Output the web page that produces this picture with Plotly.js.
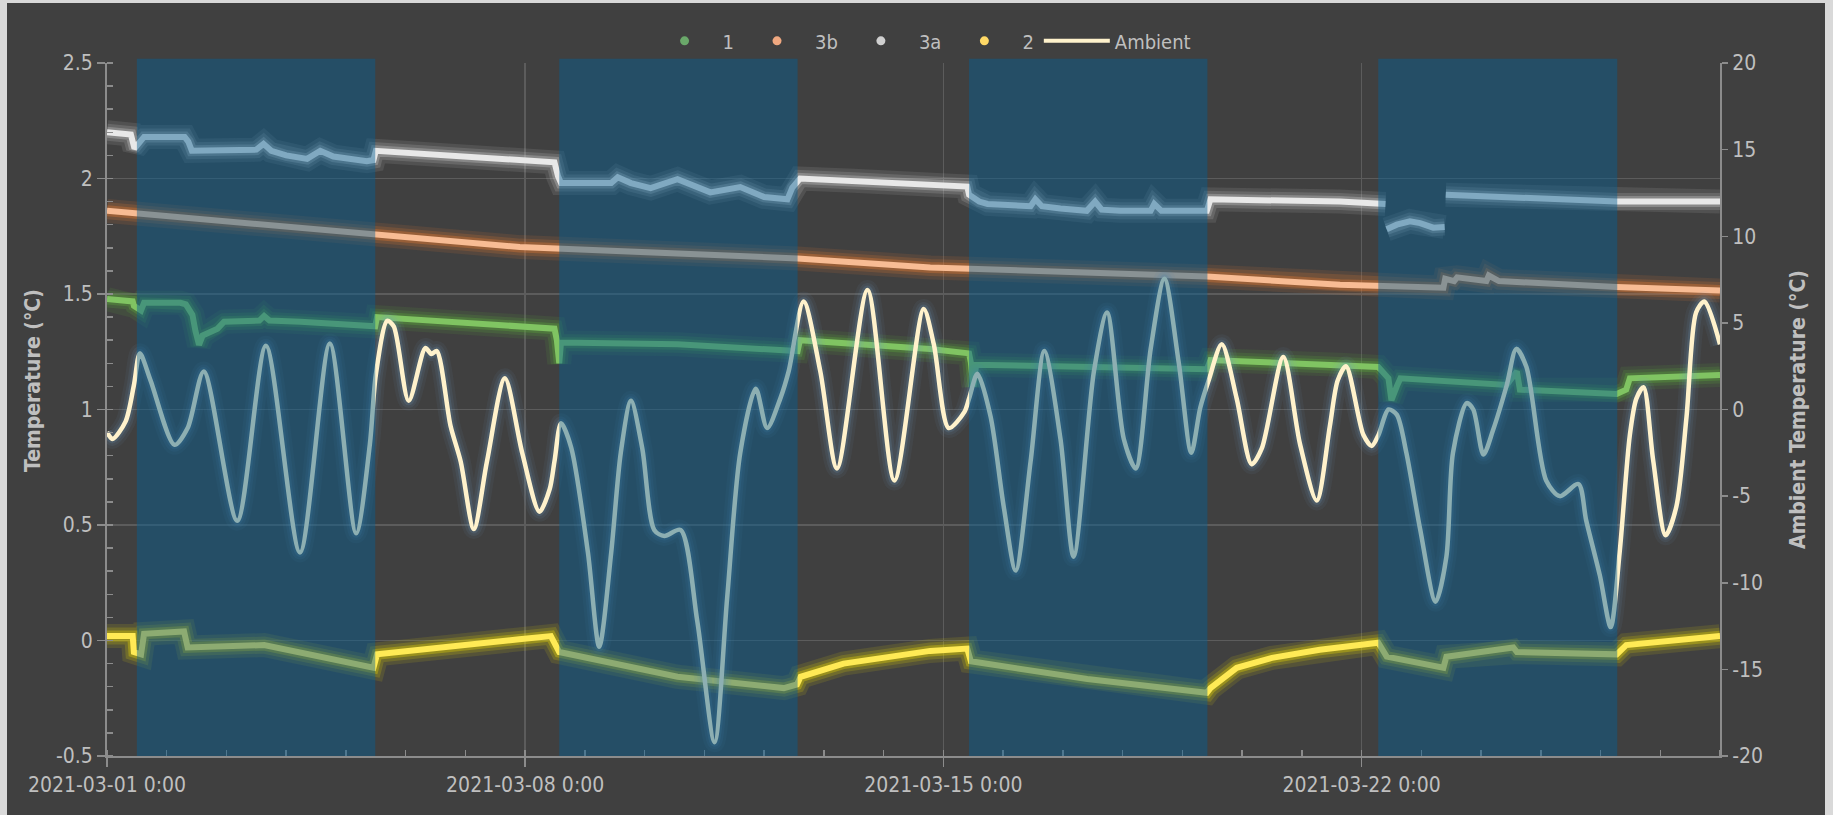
<!DOCTYPE html>
<html>
<head>
<meta charset="utf-8">
<script src="https://cdn.plot.ly/plotly-3.0.1.min.js"></script>
<style>
  html, body { margin: 0; padding: 0; background: #d9d9d9; width: 1833px; height: 815px; overflow: hidden; }
  #chart { position: absolute; left: 7px; top: 3px; width: 1818px; height: 812px; }
</style>
</head>
<body>
<div id="chart"></div>
<script>
// ---- data (x values are days after 2021-03-01 0:00) ----
const seriesNames = ['1', '3b', '3a', '2', 'Ambient'];

const s1Days = [0.00, 0.43, 0.45, 0.57, 0.62, 1.23, 1.32, 1.43, 1.48, 1.54, 1.60, 1.85, 1.96, 2.55, 2.63, 2.72, 3.24, 4.49, 4.52, 6.91, 7.49, 7.53, 7.57, 7.60, 9.55, 11.56, 11.60, 13.78, 14.43, 14.46, 14.50, 14.55, 18.41, 18.47, 20.64, 21.28, 21.45, 21.50, 21.59, 21.65, 23.43, 23.60, 23.65, 25.27, 25.43, 25.49, 27.00];
const s1Vals = [1.478, 1.468, 1.449, 1.429, 1.462, 1.462, 1.455, 1.41, 1.34, 1.28, 1.32, 1.35, 1.38, 1.385, 1.405, 1.385, 1.38, 1.36, 1.40, 1.36, 1.35, 1.30, 1.20, 1.29, 1.282, 1.253, 1.30, 1.262, 1.243, 1.204, 1.10, 1.194, 1.174, 1.214, 1.194, 1.184, 1.135, 1.04, 1.10, 1.135, 1.106, 1.165, 1.086, 1.067, 1.086, 1.135, 1.149];

const s3bDays = [0.00, 4.49, 6.91, 11.56, 13.78, 18.41, 20.64, 22.37, 22.40, 22.55, 22.60, 23.09, 23.13, 23.30, 25.27, 27.00];
const s3bVals = [1.86, 1.762, 1.703, 1.654, 1.615, 1.576, 1.54, 1.527, 1.566, 1.556, 1.572, 1.556, 1.58, 1.556, 1.53, 1.515];

const s3aDays = [0.00, 0.40, 0.46, 0.62, 1.30, 1.36, 1.42, 2.50, 2.62, 2.75, 3.00, 3.35, 3.57, 3.79, 4.35, 4.46, 4.50, 6.90, 7.49, 7.55, 7.60, 8.44, 8.55, 8.77, 9.10, 9.55, 10.10, 10.60, 11.00, 11.39, 11.47, 11.60, 12.50, 14.40, 14.43, 14.60, 14.74, 15.46, 15.54, 15.65, 15.96, 16.40, 16.54, 16.65, 16.96, 17.47, 17.53, 17.65, 18.41, 18.47, 20.64, 21.25, 21.40, 21.41, 21.42, 21.59, 21.81, 21.98, 22.20, 22.39, 22.40, 22.41, 23.65, 25.27, 27.00];
const s3aVals = [2.20, 2.19, 2.13, 2.18, 2.18, 2.16, 2.12, 2.125, 2.15, 2.12, 2.10, 2.085, 2.12, 2.095, 2.075, 2.08, 2.12, 2.075, 2.07, 2.01, 1.98, 1.98, 2.005, 1.98, 1.958, 1.997, 1.94, 1.963, 1.92, 1.91, 1.96, 2.00, 1.99, 1.965, 1.93, 1.90, 1.89, 1.88, 1.91, 1.88, 1.87, 1.86, 1.90, 1.865, 1.86, 1.86, 1.89, 1.86, 1.86, 1.91, 1.90, 1.89, 1.89, null, 1.78, 1.80, 1.815, 1.807, 1.787, 1.79, null, 1.93, 1.915, 1.90, 1.90];

const s2Days = [0.00, 0.43, 0.45, 0.57, 0.62, 1.29, 1.35, 2.63, 4.46, 4.52, 6.90, 7.43, 7.57, 8.44, 9.55, 11.33, 11.55, 11.61, 12.33, 13.78, 14.40, 14.46, 16.41, 18.41, 18.47, 18.91, 19.50, 20.30, 21.28, 21.42, 22.37, 22.42, 23.54, 23.60, 25.27, 25.43, 27.00];
const s2Vals = [0.019, 0.019, -0.05, -0.06, 0.029, 0.039, -0.03, -0.02, -0.118, -0.06, 0.005, 0.019, -0.05, -0.098, -0.157, -0.206, -0.19, -0.157, -0.10, -0.045, -0.035, -0.09, -0.167, -0.226, -0.206, -0.118, -0.075, -0.04, -0.01, -0.07, -0.118, -0.07, -0.03, -0.05, -0.06, -0.02, 0.019];

const ambDays = [0.00, 0.09, 0.31, 0.45, 0.55, 0.73, 1.13, 1.35, 1.62, 2.18, 2.66, 3.23, 3.73, 4.17, 4.40, 4.50, 4.69, 4.80, 5.05, 5.33, 5.43, 5.52, 5.75, 5.92, 6.14, 6.36, 6.66, 6.95, 7.24, 7.41, 7.49, 7.60, 7.77, 8.05, 8.24, 8.44, 8.60, 8.77, 8.96, 9.16, 9.33, 9.60, 9.88, 10.17, 10.38, 10.60, 10.86, 11.05, 11.27, 11.41, 11.66, 11.94, 12.22, 12.73, 13.18, 13.67, 13.84, 14.09, 14.35, 14.43, 14.57, 14.79, 15.01, 15.21, 15.46, 15.69, 15.96, 16.18, 16.52, 16.74, 17.02, 17.22, 17.47, 17.70, 17.94, 18.15, 18.30, 18.44, 18.66, 18.91, 19.16, 19.33, 19.69, 19.97, 20.25, 20.47, 20.60, 20.74, 21.03, 21.17, 21.28, 21.45, 21.59, 21.75, 21.98, 22.24, 22.42, 22.53, 22.76, 22.87, 23.04, 23.20, 23.43, 23.59, 23.76, 24.09, 24.32, 24.63, 24.76, 24.99, 25.17, 25.32, 25.49, 25.60, 25.72, 25.88, 26.09, 26.27, 26.44, 26.60, 26.74, 27.00];
const ambVals = [-1.3, -1.7, -0.7, 1.4, 3.24, 1.67, -2.04, -1.07, 2.2, -6.42, 3.68, -8.25, 3.81, -7.15, -2.0, 2.0, 5.12, 4.8, 0.5, 3.55, 3.2, 3.37, -0.94, -3.0, -6.9, -3.0, 1.8, -2.5, -5.9, -4.6, -3.0, -0.8, -2.2, -8.25, -13.7, -8.25, -2.5, 0.5, -2.25, -6.95, -7.3, -6.95, -12.2, -19.2, -10.9, -2.5, 1.2, -1.07, 0.63, 2.2, 6.24, 2.2, -3.4, 6.9, -4.1, 5.8, 3.76, -1.07, -0.15, 0.63, 2.06, -0.4, -5.6, -9.3, -3.0, 3.37, -1.7, -8.5, 2.2, 5.6, -1.7, -3.4, 3.5, 7.55, 2.7, -2.5, 0.1, 1.67, 3.76, 0.63, -3.16, -2.25, 3.03, -2.0, -5.25, -0.94, 1.67, 2.5, -1.46, -2.1, -1.5, 0.0, -0.3, -2.5, -6.9, -11.1, -8.5, -2.5, 0.37, 0.0, -2.6, -1.2, 1.4, 3.5, 2.45, -4.1, -5.0, -4.3, -6.4, -9.6, -12.56, -8.25, -1.5, 0.63, 1.28, -2.9, -7.26, -5.6, -0.4, 5.6, 6.24, 3.76];

// shaded periods (days after 2021-03-01)
const bandStart = [0.50, 7.57, 14.43, 21.28];
const bandEnd   = [4.49, 11.56, 18.42, 25.28];

// tick labels
const xTickDays = [0, 7, 14, 21];
const yLeftTicks = [-0.5, 0, 0.5, 1, 1.5, 2, 2.5];
const yLeftLabels = ['-0.5', '0', '0.5', '1', '1.5', '2', '2.5'];
const yRightTicks = [-20, -15, -10, -5, 0, 5, 10, 15, 20];
const yRightLabels = ['-20', '-15', '-10', '-5', '0', '5', '10', '15', '20'];

// ---- helpers ----
const DAY0 = Date.UTC(2021, 2, 1);
function toDate(d) { return new Date(DAY0 + d * 864e5).toISOString().slice(0, 19).replace('T', ' '); }
const dates = arr => arr.map(toDate);

const FONT = '"Liberation Sans Narrow", "DejaVu Sans Condensed", "Open Sans", sans-serif';
const TXT = '#bfbfbf';

const styles = {
  '1':   { core: '#80c462', glow: '94,170,60',  yaxis: 'y' },
  '3b':  { core: '#f8bc94', glow: '237,125,49', yaxis: 'y' },
  '3a':  { core: '#e8e8e8', glow: '205,205,205', yaxis: 'y' },
  '2':   { core: '#ffea55', glow: '240,220,0',  yaxis: 'y' },
  'Ambient': { core: '#fff2cc', glow: '110,160,200', yaxis: 'y2' }
};
const legendColor = { '1': '#6aa86a', '3b': '#f0a880', '3a': '#d0d0d0', '2': '#ffd966', 'Ambient': '#fff2cc' };

const dataSets = {
  '1':  [s1Days, s1Vals],
  '3b': [s3bDays, s3bVals],
  '3a': [s3aDays, s3aVals],
  '2':  [s2Days, s2Vals],
  'Ambient': [ambDays, ambVals]
};

const traces = [];
seriesNames.forEach(name => {
  const st = styles[name];
  const [dx, dy] = dataSets[name];
  const x = dates(dx);
  const isAmb = name === 'Ambient';
  const shape = isAmb ? 'spline' : 'linear';
  const glowW = isAmb ? [20, 14, 9] : [24, 17, 11];
  const glowA = isAmb ? [0.07, 0.1, 0.16] : [0.12, 0.18, 0.32];
  glowW.forEach((w, k) => {
    traces.push({ x, y: dy, yaxis: st.yaxis, mode: 'lines', hoverinfo: 'skip', showlegend: false,
      line: { color: 'rgba(' + st.glow + ',' + glowA[k] + ')', width: w, shape, smoothing: 0.8 } });
  });
  traces.push({ x, y: dy, yaxis: st.yaxis, mode: 'lines', name, showlegend: false,
    line: { color: st.core, width: isAmb ? 4.5 : 6, shape, smoothing: 0.8 } });
});
// legend entries
seriesNames.forEach(name => {
  if (name === 'Ambient') {
    traces.push({ x: [null], y: [null], yaxis: 'y2', mode: 'lines', name, line: { color: legendColor[name], width: 4 } });
  } else {
    traces.push({ x: [null], y: [null], mode: 'markers', name, marker: { color: legendColor[name], size: 9 } });
  }
});

const shapes = bandStart.map((s, i) => ({
  type: 'rect', layer: 'above', xref: 'x', yref: 'paper',
  x0: toDate(s), x1: toDate(bandEnd[i]), y0: 0, y1: 1.006,
  fillcolor: 'rgba(6,95,148,0.46)', line: { width: 0 }
}));

const layout = {
  width: 1818, height: 812,
  paper_bgcolor: '#404040', plot_bgcolor: '#404040',
  margin: { l: 100, r: 105, t: 60, b: 59 },
  font: { family: FONT, color: TXT, size: 20 },
  showlegend: true,
  legend: { orientation: 'h', x: 0.505, xanchor: 'center', y: 1.032, yanchor: 'middle',
    font: { family: FONT, color: TXT, size: 20 }, itemwidth: 66,
    bgcolor: 'rgba(0,0,0,0)' },
  xaxis: {
    type: 'date', range: [toDate(0), toDate(27)],
    tickmode: 'array', tickvals: dates(xTickDays), tickformat: '%Y-%m-%d %-H:%M',
    ticks: 'outside', ticklen: 9, tickcolor: '#8c8c8c', tickwidth: 1.5,
    showline: true, linecolor: '#8c8c8c', linewidth: 2,
    showgrid: true, gridcolor: '#5c5c5c', gridwidth: 1.5,
    zeroline: false,
    minor: { dtick: 864e5, tick0: toDate(0), ticks: 'inside', ticklen: 6, tickcolor: '#8c8c8c', showgrid: false },
    tickfont: { family: FONT, color: TXT, size: 21 }, automargin: false
  },
  yaxis: {
    range: [-0.5, 2.5], tickmode: 'array', tickvals: yLeftTicks, ticktext: yLeftLabels,
    ticks: 'outside', ticklen: 8, tickcolor: '#8c8c8c', tickwidth: 1.5,
    showline: true, linecolor: '#8c8c8c', linewidth: 2,
    showgrid: true, gridcolor: '#5c5c5c', gridwidth: 1.5, zeroline: false,
    minor: { tickmode: 'linear', tick0: 0, dtick: 0.1, ticks: 'inside', ticklen: 6, tickcolor: '#8c8c8c', showgrid: false },
    tickfont: { family: FONT, color: TXT, size: 21 }, automargin: false
  },
  yaxis2: {
    overlaying: 'y', side: 'right', range: [-20, 20],
    tickmode: 'array', tickvals: yRightTicks, ticktext: yRightLabels,
    ticks: 'outside', ticklen: 6, tickcolor: '#8c8c8c', tickwidth: 1.5,
    showline: true, linecolor: '#8c8c8c', linewidth: 2,
    showgrid: false, zeroline: false,
    tickfont: { family: FONT, color: TXT, size: 21 }, automargin: false,
    title: { text: 'Ambient Temperature (°C)', font: { family: FONT, color: TXT, size: 21, weight: 'bold' }, standoff: 28 }
  },
  annotations: [{
    text: 'Temperature (°C)', xref: 'paper', yref: 'paper', x: -0.0459, y: 0.5426,
    xanchor: 'center', yanchor: 'middle', textangle: -90, showarrow: false,
    font: { family: FONT, color: TXT, size: 21, weight: 'bold' }
  }],
  shapes
};

Plotly.newPlot('chart', traces, layout, { displayModeBar: false, staticPlot: true });
</script>
</body>
</html>
